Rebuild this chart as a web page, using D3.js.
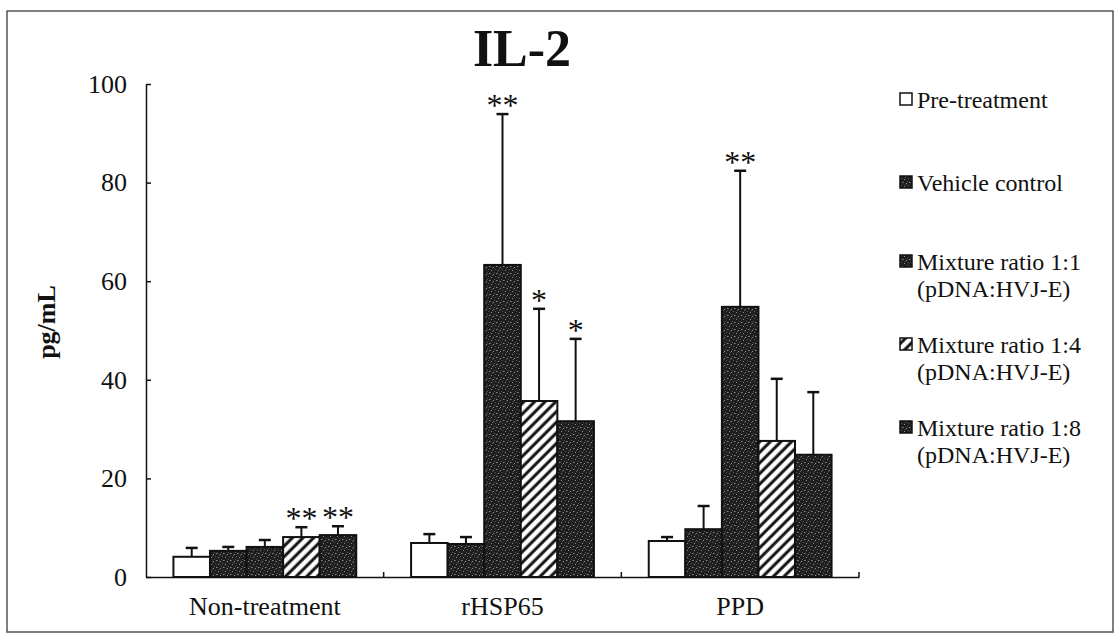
<!DOCTYPE html>
<html>
<head>
<meta charset="utf-8">
<script src="https://cdn.jsdelivr.net/npm/d3@7"></script>
<style>
  html, body { margin: 0; padding: 0; background: #fff; }
  svg { display: block; }
  text { font-family: "Liberation Serif", "Times New Roman", serif; fill: #111; }
</style>
</head>
<body>
<svg id="chart" width="1120" height="639"></svg>
<script>
// ---- data ----
const categories = ["Non-treatment", "rHSP65", "PPD"];
const seriesNames = ["Pre-treatment", "Vehicle control", "Mixture ratio 1:1", "Mixture ratio 1:4", "Mixture ratio 1:8"];
const legendLines = [["Pre-treatment"], ["Vehicle control"], ["Mixture ratio 1:1", "(pDNA:HVJ-E)"], ["Mixture ratio 1:4", "(pDNA:HVJ-E)"], ["Mixture ratio 1:8", "(pDNA:HVJ-E)"]];
const preTreatment   = [4.1, 6.9, 7.3];
const vehicleControl = [5.3, 6.7, 9.7];
const ratio1to1      = [6.1, 63.3, 54.8];
const ratio1to4      = [8.1, 35.7, 27.6];
const ratio1to8      = [8.5, 31.6, 24.8];
const preTreatmentSD   = [1.8, 1.8, 0.8];
const vehicleControlSD = [0.8, 1.4, 4.7];
const ratio1to1SD      = [1.4, 30.6, 27.6];
const ratio1to4SD      = [2.0, 18.7, 12.6];
const ratio1to8SD      = [1.8, 16.7, 12.7];
const significance = [["", "", "", "**", "**"], ["", "", "**", "*", "*"], ["", "", "**", "", ""]];
const yTicks = [0, 20, 40, 60, 80, 100];
const title = "IL-2";
const yLabel = "pg/mL";

const values = [preTreatment, vehicleControl, ratio1to1, ratio1to4, ratio1to8];
const errors = [preTreatmentSD, vehicleControlSD, ratio1to1SD, ratio1to4SD, ratio1to8SD];
const fills = ["#fff", "url(#speck)", "url(#speck)", "url(#hatch)", "url(#speck)"];

const svg = d3.select("#chart");
const defs = svg.append("defs");

// speckled dark fill
const sp = defs.append("pattern").attr("id", "speck").attr("patternUnits", "userSpaceOnUse")
  .attr("width", 7).attr("height", 7);
sp.append("rect").attr("width", 7).attr("height", 7).attr("fill", "#1f1f1f");
[[0,0],[3,1],[5,3],[1,4],[4,6],[6,0],[2,2]].forEach(([x, y], i) =>
  sp.append("rect").attr("x", x).attr("y", y).attr("width", 1).attr("height", 1)
    .attr("fill", i % 2 ? "#8a8a8a" : "#555"));

// hatch fill
const ht = defs.append("pattern").attr("id", "hatch").attr("patternUnits", "userSpaceOnUse")
  .attr("width", 7.5).attr("height", 7.5).attr("patternTransform", "rotate(45)");
ht.append("rect").attr("width", 7.5).attr("height", 7.5).attr("fill", "#fff");
ht.append("line").attr("x1", 2).attr("y1", 0).attr("x2", 2).attr("y2", 7.5)
  .attr("stroke", "#111").attr("stroke-width", 3);

// frame
svg.append("rect").attr("x", 7).attr("y", 11).attr("width", 1106).attr("height", 621)
  .attr("fill", "none").attr("stroke", "#555").attr("stroke-width", 1.5);

// scales
const x0 = d3.scaleBand().domain(categories).range([146, 859]).paddingInner(0).paddingOuter(0);
const x1 = d3.scaleBand().domain(d3.range(seriesNames.length)).range([0, x0.bandwidth()]).paddingInner(0).paddingOuter(0.75);
const y = d3.scaleLinear().domain([0, 100]).range([577, 84]);

// title
svg.append("text").attr("x", 522).attr("y", 66).attr("text-anchor", "middle")
  .attr("font-size", 52).attr("font-weight", "bold").text(title);

// y axis
const yAxis = d3.axisLeft(y).tickValues(yTicks).tickSizeInner(-5).tickSizeOuter(0).tickPadding(19);
const gy = svg.append("g").attr("transform", "translate(146,0)").call(yAxis);
gy.select(".domain").attr("stroke", "#111").attr("stroke-width", 1.5);
gy.selectAll(".tick line").attr("stroke", "#111").attr("stroke-width", 1.5);
gy.selectAll(".tick text").attr("font-size", 26).attr("font-family", "Liberation Serif").attr("fill", "#111");

// y label
svg.append("text").attr("transform", "translate(55,322) rotate(-90)").attr("text-anchor", "middle")
  .attr("font-size", 26).attr("font-weight", "bold").text(yLabel);

// x axis
const xAxis = d3.axisBottom(x0).tickSize(0).tickPadding(20);
const gx = svg.append("g").attr("transform", "translate(0,577)").call(xAxis);
gx.select(".domain").attr("stroke", "#111").attr("stroke-width", 1.5);
gx.selectAll(".tick text").attr("font-size", 26).attr("font-family", "Liberation Serif").attr("fill", "#111");
// boundary ticks (inward)
gx.selectAll(".bnd").data(categories.slice(1).concat(["__end"])).enter().append("line")
  .attr("x1", d => d === "__end" ? x0.range()[1] : x0(d))
  .attr("x2", d => d === "__end" ? x0.range()[1] : x0(d))
  .attr("y1", 0).attr("y2", -5).attr("stroke", "#111").attr("stroke-width", 1.5);

// bars
const flat = [];
categories.forEach((c, ci) => seriesNames.forEach((s, si) => flat.push({ c, ci, si, v: values[si][ci], e: errors[si][ci], sig: significance[ci][si] })));

const eb = svg.append("g");
eb.selectAll("line.v").data(flat).enter().append("line")
  .attr("x1", d => x0(d.c) + x1(d.si) + x1.bandwidth() / 2)
  .attr("x2", d => x0(d.c) + x1(d.si) + x1.bandwidth() / 2)
  .attr("y1", d => y(d.v)).attr("y2", d => y(d.v + d.e))
  .attr("stroke", "#111").attr("stroke-width", 2);
eb.selectAll("line.cap").data(flat).enter().append("line")
  .attr("x1", d => x0(d.c) + x1(d.si) + x1.bandwidth() / 2 - 6)
  .attr("x2", d => x0(d.c) + x1(d.si) + x1.bandwidth() / 2 + 6)
  .attr("y1", d => y(d.v + d.e)).attr("y2", d => y(d.v + d.e))
  .attr("stroke", "#111").attr("stroke-width", 2.5);

const bars = svg.append("g");
bars.selectAll("rect").data(flat).enter().append("rect")
  .attr("x", d => x0(d.c) + x1(d.si))
  .attr("y", d => y(d.v))
  .attr("width", x1.bandwidth())
  .attr("height", d => y(0) - y(d.v))
  .attr("fill", d => fills[d.si])
  .attr("stroke", "#111").attr("stroke-width", 2);

// significance stars
svg.append("g").selectAll("text").data(flat.filter(d => d.sig)).enter().append("text")
  .attr("x", d => x0(d.c) + x1(d.si) + x1.bandwidth() / 2)
  .attr("y", d => y(d.v + d.e) + 2)
  .attr("text-anchor", "middle").attr("font-size", 32)
  .text(d => d.sig);

// legend
const legendY = [100, 183, 262, 345, 428];
const lg = svg.append("g");
legendLines.forEach((lines, i) => {
  lg.append("rect").attr("x", 900).attr("y", legendY[i] - 7).attr("width", 12).attr("height", 12)
    .attr("fill", fills[i]).attr("stroke", "#111").attr("stroke-width", 1.5);
  lines.forEach((t, j) => {
    lg.append("text").attr("x", 917).attr("y", legendY[i] + j * 27).attr("dy", "0.35em")
      .attr("font-size", 24).text(t);
  });
});
</script>
</body>
</html>
